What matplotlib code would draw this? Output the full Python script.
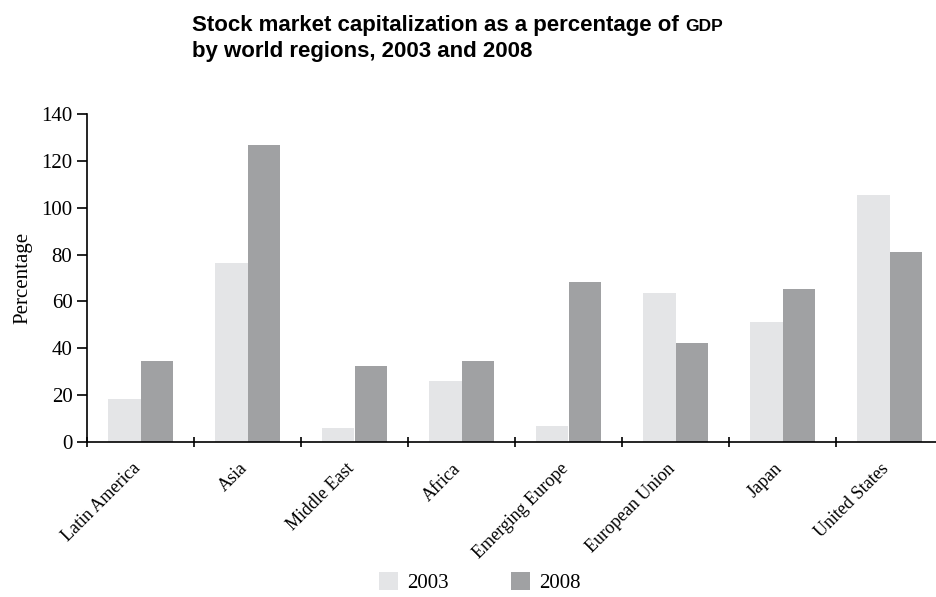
import matplotlib
matplotlib.use("Agg")
import matplotlib.pyplot as plt
import numpy as np

regions = ["Latin America", "Asia", "Middle East", "Africa", "Emerging Europe",
           "European Union", "Japan", "United States"]
cap_2003 = [18.5, 76.3, 6.0, 26.0, 6.7, 63.5, 51.1, 105.3]
cap_2008 = [34.7, 126.7, 32.5, 34.7, 68.2, 42.1, 65.2, 81.0]
years = ["2003", "2008"]

light = "#e4e5e7"
dark = "#a0a1a3"
serif = ["Liberation Serif", "DejaVu Serif"]
sans = ["Liberation Sans", "DejaVu Sans"]

fig = plt.figure(figsize=(9.36, 5.97), dpi=100)
ax = fig.add_axes([87 / 936, 1 - 442 / 597, 1 - 87 / 936, (442 - 114) / 597])

x = np.arange(len(regions)) + 0.5
w = 0.3
ax.bar(x - w / 2, cap_2003, w, color=light, label=years[0])
ax.bar(x + w / 2, cap_2008, w, color=dark, label=years[1])

ax.set_xlim(0, (936 - 87) / 107)
ax.set_ylim(0, 140)
ax.set_yticks(range(0, 141, 20))
ax.set_xticks(np.arange(len(regions)))
# labels sit a little left of the group centres
ax.set_xticks(x - 0.085, minor=True)
ax.set_xticklabels([])
ax.set_xticklabels(regions, minor=True, rotation=45, ha="right", va="top",
                   rotation_mode="anchor", fontfamily=serif, fontsize=13)
ax.tick_params(axis="x", which="minor", length=0, pad=13)
ax.tick_params(axis="x", which="major", length=7, width=1.2, direction="inout")
ax.tick_params(axis="y", length=7, width=1.2, direction="out", labelsize=15)
for lab in ax.get_yticklabels():
    lab.set_fontfamily(serif)

for s in ["top", "right"]:
    ax.spines[s].set_visible(False)
for s in ["left", "bottom"]:
    ax.spines[s].set_linewidth(1.2)

ax.set_ylabel("Percentage", fontfamily=serif, fontsize=15, labelpad=6)

leg = fig.legend(loc="lower center", bbox_to_anchor=(480 / 936, -0.025), ncol=2,
                 frameon=False, handlelength=0.9, handleheight=0.9,
                 columnspacing=3.0, handletextpad=0.45,
                 prop={"family": serif, "size": 15})

# title, GDP set in small caps
t1 = fig.text(192 / 936, 1 - 31 / 597, "Stock market capitalization as a percentage of ",
              fontfamily=sans, fontweight="bold", fontsize=16, va="baseline")
fig.canvas.draw()
bb = t1.get_window_extent()
fig.text(bb.x1 / 936, 1 - 31 / 597, "GDP", fontfamily=sans, fontweight="bold",
         fontsize=12.5, va="baseline")
fig.text(192 / 936, 1 - 57 / 597, "by world regions, 2003 and 2008",
         fontfamily=sans, fontweight="bold", fontsize=16, va="baseline")

fig.savefig("out.png", dpi=100)
